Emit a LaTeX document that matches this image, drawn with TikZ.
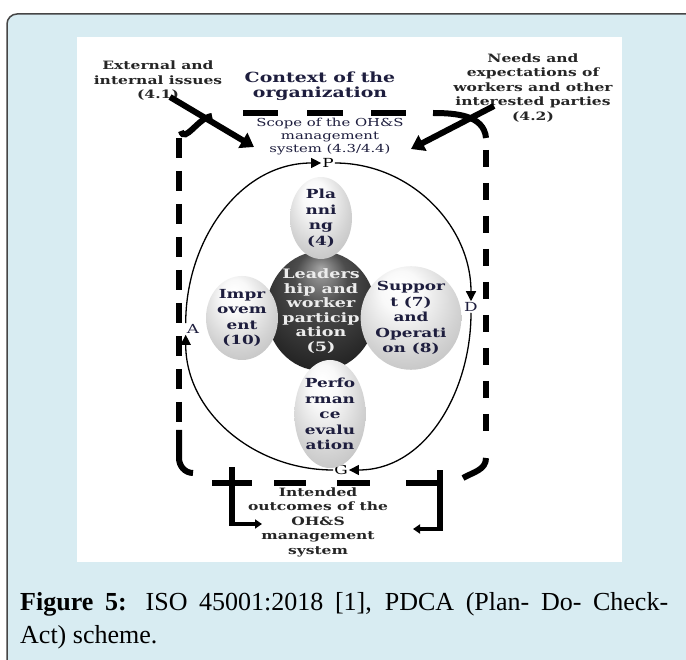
\documentclass[tikz,border=0pt]{standalone}
\usepackage{fontspec}
\setmainfont{Liberation Serif}
\newfontfamily\figfont[FakeStretch=1.35]{DejaVu Serif}
\usepackage{xcolor}
\usepackage{tikz}
\usetikzlibrary{arrows.meta, shapes.geometric}

\definecolor{panelblue}{RGB}{216,236,242}
\definecolor{framegray}{RGB}{70,70,70}
\definecolor{inkblue}{RGB}{30,30,62}

\pgfdeclareradialshading{bubbleshade}{\pgfpoint{-6bp}{16bp}}{%
  color(0bp)=(white); color(10bp)=(white!95!gray); color(26bp)=(gray!35);
  color(42bp)=(gray!60); color(50bp)=(gray!72)}
\pgfdeclareradialshading{leadshade}{\pgfpoint{0bp}{18bp}}{%
  color(0bp)=(gray!70); color(12bp)=(black!70); color(30bp)=(black!85);
  color(50bp)=(black)}

\tikzset{
  issue/.style={font=\figfont\bfseries\fontsize{11.5}{14.5}\selectfont, align=center, text=black!85, inner sep=1pt},
  context/.style={font=\figfont\bfseries\fontsize{14}{15.5}\selectfont, align=center, text=inkblue, inner sep=1pt},
  scopetext/.style={font=\figfont\fontsize{11}{13}\selectfont, align=center, text=inkblue, inner sep=1pt},
  bubble/.style={ellipse, shading=bubbleshade, inner sep=0pt, align=center, text=inkblue,
    font=\figfont\bfseries\fontsize{12.5}{15.5}\selectfont},
  darkbubble/.style={bubble, shading=leadshade, text=gray!15, font=\figfont\bfseries\fontsize{13}{14.5}\selectfont},
  pdca/.style={font=\figfont\fontsize{12.5}{12.5}\selectfont, inner sep=1pt},
  cycle/.style={line width=1.3pt, -{Triangle[length=10pt,width=10pt]}},
  bigarrow/.style={line width=6pt, -{Triangle[length=13pt,width=17pt]}},
  frameline/.style={line width=6pt},
  outarrow/.style={line width=3.5pt, -{Triangle[length=7pt,width=9pt]}}
}

\begin{document}
\begin{tikzpicture}[x=1pt, y=-1pt]
\useasboundingbox (0,0) rectangle (686,660);
\clip (0,0) rectangle (686,660);

% Background and frame
\fill[white] (0,0) rectangle (686,660);
\filldraw[fill=panelblue, draw=framegray, line width=1.5pt, rounded corners=10pt] (7,14) rectangle (720,700);
\fill[white] (77,37) rectangle (622,562);

% Labels on top
\node[issue] (ext) at (158,81) {External and\\internal issues\\(4.1)};
\node[context] (ctx) at (320,86) {Context of the\\organization};
\node[issue] (needs) at (533,88) {Needs and\\expectations of\\workers and other\\interested parties\\(4.2)};
\node[scopetext] (scope) at (330,137) {Scope of the OH\&S\\management\\system (4.3/4.4)};

% Dashed boundary
\draw[frameline] (243,113) -- (278,113) (307,113) -- (343,113) (371,113) -- (406,113);
\draw[frameline] (181,131) to[out=-75,in=185] (212,116);
\draw[frameline] (433,113) to[out=0,in=95] (486,138);
\draw[frameline, dash pattern=on 20pt off 13pt] (179,138) -- (179,425);
\draw[frameline] (179,430) -- (179,458) to[out=-90,in=180] (193,473);
\draw[frameline, dash pattern=on 17pt off 16pt] (486,150) -- (486,446);
\draw[frameline] (486,458) to[out=-90,in=30] (463,478);
\draw[frameline] (212,483) -- (252,483) (274,483) -- (306,483) (337,483) -- (370,483) (406,483) -- (443,483);

% Input arrows
\coordinate (extend) at (170,97);
\coordinate (tipL) at (254,147);
\coordinate (needsend) at (494,106);
\coordinate (tipR) at (411,149);
\draw[bigarrow] (extend) -- (tipL);
\draw[bigarrow] (needsend) -- (tipR);

% PDCA cycle
\node[pdca] (P) at (328,163) {P};
\node[pdca, text=inkblue] (D) at (471,307) {D};
\node[pdca] (G) at (341,470) {G};
\node[pdca, text=inkblue] (A) at (193,329) {A};
\draw[cycle] (A.north west) to[out=90,in=180] (P.west);
\draw[cycle] (P.east) to[out=0,in=90] (D.north);
\draw[cycle] (D.south) to[out=-90,in=0] (G.east);
\draw[cycle] (G.west) to[out=180,in=-90] (A.south west);

% Clauses
\node[darkbubble, minimum width=98pt, minimum height=97pt] (lead) at (321,311) {Leaders\\hip and\\worker\\particip\\ation\\(5)};
\node[bubble, minimum width=62pt, minimum height=80pt] (plan) at (321,218) {Pla\\nni\\ng\\(4)};
\node[bubble, minimum width=72pt, minimum height=84pt] (impr) at (242,318) {Impr\\ovem\\ent\\(10)};
\node[bubble, minimum width=76pt, minimum height=84pt] (supp) at (411,318) {Suppor\\t (7)\\and\\Operati\\on (8)};
\node[bubble, minimum width=68pt, minimum height=108pt] (perf) at (330,414) {Perfo\\rman\\ce\\evalu\\ation};

% Outcomes
\node[issue] (outcome) at (318,522) {Intended\\outcomes of the\\OH\&S\\management\\system};
\coordinate (bl) at (232,524);
\coordinate (outL) at (262,524);
\coordinate (br) at (440,529);
\coordinate (outR) at (413,529);
\draw[frameline] (232,467) -- ([yshift=2pt]bl);
\draw[frameline] (440,470) -- ([yshift=2pt]br);
\draw[outarrow] ([xshift=-3pt]bl) -- (outL);
\draw[outarrow] ([xshift=3pt]br) -- (outR);

% Caption
\node[anchor=north west, text width=648pt, align=justify, inner sep=0pt,
  font=\fontsize{26}{33}\selectfont] (cap) at (20,592)
  {\textbf{Figure 5:} ISO 45001:2018 [1], PDCA (Plan- Do- Check-\linebreak Act) scheme.};
\end{tikzpicture}
\end{document}
